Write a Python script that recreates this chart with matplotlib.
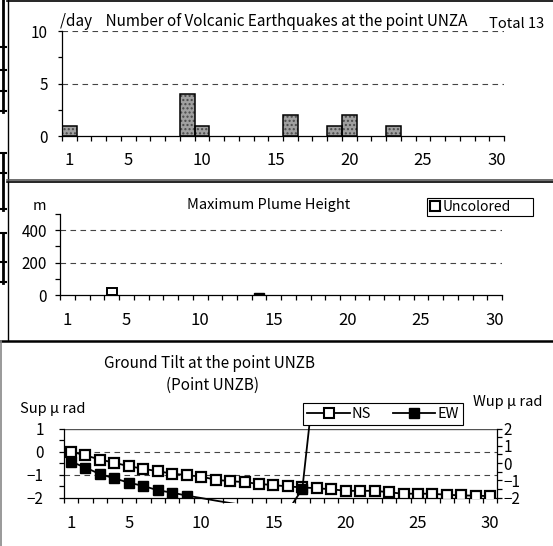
import matplotlib
matplotlib.use("Agg")
import matplotlib.pyplot as plt
import numpy as np
from matplotlib.lines import Line2D
from matplotlib.patches import Rectangle

plt.rcParams["font.family"] = ["Noto Sans CJK JP", "DejaVu Sans"]
plt.rcParams["axes.linewidth"] = 0.9
plt.rcParams["hatch.linewidth"] = 1.0

# ---- data ----
days = np.arange(1, 31)
day_labels = [1, 5, 10, 15, 20, 25, 30]

quake_days = [1, 9, 10, 16, 19, 20, 23]
quake_counts = [1, 4, 1, 2, 1, 2, 1]

plume_uncolored_days = [4]
plume_uncolored_m = [45]
plume_colored_days = [14]
plume_colored_m = [10]

tilt_ns = [0.0, -0.17, -0.35, -0.49, -0.64, -0.75, -0.86, -0.96, -1.03, -1.09,
           -1.23, -1.29, -1.33, -1.41, -1.46, -1.52, -1.56, -1.60, -1.64, -1.71,
           -1.71, -1.71, -1.77, -1.84, -1.83, -1.84, -1.88, -1.91, -1.92, -1.94]
tilt_ew = [0.08, -0.27, -0.64, -0.89, -1.14, -1.33, -1.58, -1.72, -1.89, -2.03,
           -2.18, -2.32, -2.45, -2.57, -2.68, -2.78, -1.50, 6.1] + [np.nan] * 12

W, H = 553, 546


def box(l, t, r, b):
    return [l / W, 1 - b / H, (r - l) / W, (b - t) / H]


def ftext(x, y, s, **kw):
    fig.text(x / W, 1 - y / H, s, va="center", **kw)


def fline(x0, y0, x1, y1, **kw):
    fig.add_artist(Line2D([x0 / W, x1 / W], [1 - y0 / H, 1 - y1 / H],
                          transform=fig.transFigure, **kw))


def day_axis(ax, pad):
    ax.set_xlim(0.5, 30.5)
    ax.set_xticks(np.arange(0.5, 31, 1))
    ax.set_xticklabels([])
    ax.set_xticks(day_labels, minor=True)
    ax.set_xticklabels([str(d) for d in day_labels], minor=True, fontsize=12)
    ax.tick_params(axis="x", which="major", direction="out", length=3.5, width=0.9)
    ax.tick_params(axis="x", which="minor", length=0, pad=pad)
    ax.spines["top"].set_visible(False)
    ax.spines["right"].set_visible(False)


grid_kw = dict(color="#444444", linestyle=(0, (5, 4)), linewidth=0.8, zorder=0)

fig = plt.figure(figsize=(W / 100, H / 100), dpi=100)

# ---- panel frames ----
fline(7, 0.5, 553, 0.5, color="black", lw=1.2)
fline(7.5, 0, 7.5, 180, color="black", lw=1.0)
fline(7, 180, 553, 180, color="#555555", lw=1.2)
fline(7, 182, 553, 182, color="black", lw=1.2)
fline(7.5, 182, 7.5, 340, color="black", lw=1.0)
fline(0, 340.5, 553, 340.5, color="black", lw=1.8)
fline(1, 341, 1, 546, color="#888888", lw=1.2)
# cropped brackets at left edge
for y0, y1, marks in [(0, 112, [47, 70, 91, 111]), (153, 210, [153, 173, 209]),
                      (233, 283, [233, 262, 282])]:
    fline(2.5, y0, 2.5, y1, color="black", lw=2)
    for m in marks:
        fline(0, m, 6, m, color="black", lw=1.5)

# ---- panel 1: volcanic earthquakes ----
ax1 = fig.add_axes(box(62, 31, 504, 136.3))
ax1.bar(quake_days, quake_counts, width=1.0, color="#a0a0a0", hatch="....",
        edgecolor="#4a4a4a", linewidth=0, zorder=2)
ax1.bar(quake_days, quake_counts, width=1.0, fill=False, edgecolor="black",
        linewidth=1.1, zorder=3)
ax1.set_ylim(0, 10)
ax1.set_yticks([0, 5, 10])
ax1.set_yticks([2.5, 7.5], minor=True)
ax1.tick_params(axis="y", which="both", direction="out", length=3, width=0.9,
                labelsize=11, pad=7)
for v in [5, 10]:
    ax1.axhline(v, **grid_kw)
day_axis(ax1, 11)
ftext(60, 21.5, "/day    Number of Volcanic Earthquakes at the point UNZA", fontsize=11)
ftext(489, 23.5, "Total 13", fontsize=10.5)

# ---- panel 2: plume height ----
ax2 = fig.add_axes(box(60.3, 214, 502, 295))
ax2.bar(plume_uncolored_days, plume_uncolored_m, width=0.68, color="white",
        edgecolor="black", linewidth=1.4, zorder=2)
ax2.bar(plume_colored_days, plume_colored_m, width=0.68, color="black",
        edgecolor="black", linewidth=1.0, zorder=2)
ax2.set_ylim(0, 500)
ax2.set_yticks([0, 200, 400])
ax2.set_yticks([100, 300, 500], minor=True)
ax2.tick_params(axis="y", which="both", direction="out", length=3.5, width=0.9,
                labelsize=11, pad=6)
for v in [200, 400]:
    ax2.axhline(v, **grid_kw)
day_axis(ax2, 12)
ftext(39, 205.5, "m", fontsize=10.5, ha="center")
ftext(269, 205, "Maximum Plume Height", fontsize=10.5, ha="center")
h_unc = Line2D([], [], marker="s", color="none", markerfacecolor="white",
               markeredgecolor="black", markeredgewidth=1.5, markersize=7)
leg2 = ax2.legend([h_unc], ["Uncolored"], loc="upper left", mode="expand",
                  bbox_to_anchor=(427 / W, 1 - 216 / H, 106 / W, 18 / H),
                  bbox_transform=fig.transFigure,
                  fancybox=False, framealpha=1, edgecolor="black", fontsize=10,
                  handlelength=0.8, handletextpad=0.2, borderpad=0.15,
                  borderaxespad=0)
leg2.get_frame().set_linewidth(0.8)

# ---- panel 3: ground tilt ----
ax3 = fig.add_axes(box(63.8, 428.5, 497.5, 497.5))
ax3.set_ylim(-2, 1)
ax3.set_yticks([-2, -1, 0, 1])
ax3.set_yticklabels(["\u22122", "\u22121", "0", "1"])
ax3.set_yticks(np.arange(-1.5, 1, 1), minor=True)
ax3.tick_params(axis="y", which="both", direction="out", length=3.5, width=0.9,
                labelsize=11, pad=11)
for v in [0, -1]:
    ax3.axhline(v, **grid_kw)
ax3.axhline(1, color="#555555", lw=1.0, zorder=0)
day_axis(ax3, 12.5)
ax3.plot(days, tilt_ns, color="black", lw=1.3, marker="s", markersize=7.5,
         markerfacecolor="white", markeredgecolor="black", markeredgewidth=1.6,
         zorder=3)

ax3r = ax3.twinx()
ax3r.set_ylim(-2, 2)
ax3r.set_yticks([-2, -1, 0, 1, 2])
ax3r.set_yticklabels(["\u22122", "\u22121", "0", "1", "2"])
ax3r.set_yticks(np.arange(-1.5, 2, 1), minor=True)
ax3r.tick_params(axis="y", which="both", direction="out", length=3.5, width=0.9,
                 labelsize=11, pad=1)
ax3r.spines["top"].set_visible(False)
ax3r.spines["left"].set_visible(False)
ax3r.spines["bottom"].set_visible(False)

ew = np.array(tilt_ew)
ew_line, = ax3r.plot(days, ew, color="black", lw=1.3, zorder=4)
ew_line.set_clip_path(Rectangle((0, -0.08), 1, 1.45, transform=ax3r.transAxes))
ew_marks = np.where((ew >= -2) & (ew <= 2), ew, np.nan)
ax3r.plot(days, ew_marks, color="none", marker="s", markersize=7.5,
          markerfacecolor="black", markeredgecolor="black", zorder=5)

h_ns = Line2D([], [], color="black", lw=1.3, marker="s", markersize=7,
              markerfacecolor="white", markeredgecolor="black", markeredgewidth=1.5)
h_ew = Line2D([], [], color="black", lw=1.3, marker="s", markersize=7,
              markerfacecolor="black", markeredgecolor="black")
leg3 = ax3r.legend([h_ns, h_ew], ["NS", "EW"], ncol=2, loc="upper left", mode="expand",
                   bbox_to_anchor=(303 / W, 1 - 425 / H, 160 / W, 22.5 / H),
                   bbox_transform=fig.transFigure,
                   fancybox=False, framealpha=1, edgecolor="black", fontsize=10.5,
                   handlelength=2.9, handletextpad=0.15, columnspacing=1.0,
                   borderpad=0.3, borderaxespad=0)
leg3.get_frame().set_linewidth(0.8)
leg3.set_zorder(10)

ftext(210, 364, "Ground Tilt at the point UNZB", fontsize=11, ha="center")
ftext(212, 385, "(Point UNZB)", fontsize=11, ha="center")
ftext(20, 409, "Sup \u03bc rad", fontsize=10.5)
ftext(473, 402, "Wup \u03bc rad", fontsize=10.5)

fig.savefig("out.png", dpi=100)
